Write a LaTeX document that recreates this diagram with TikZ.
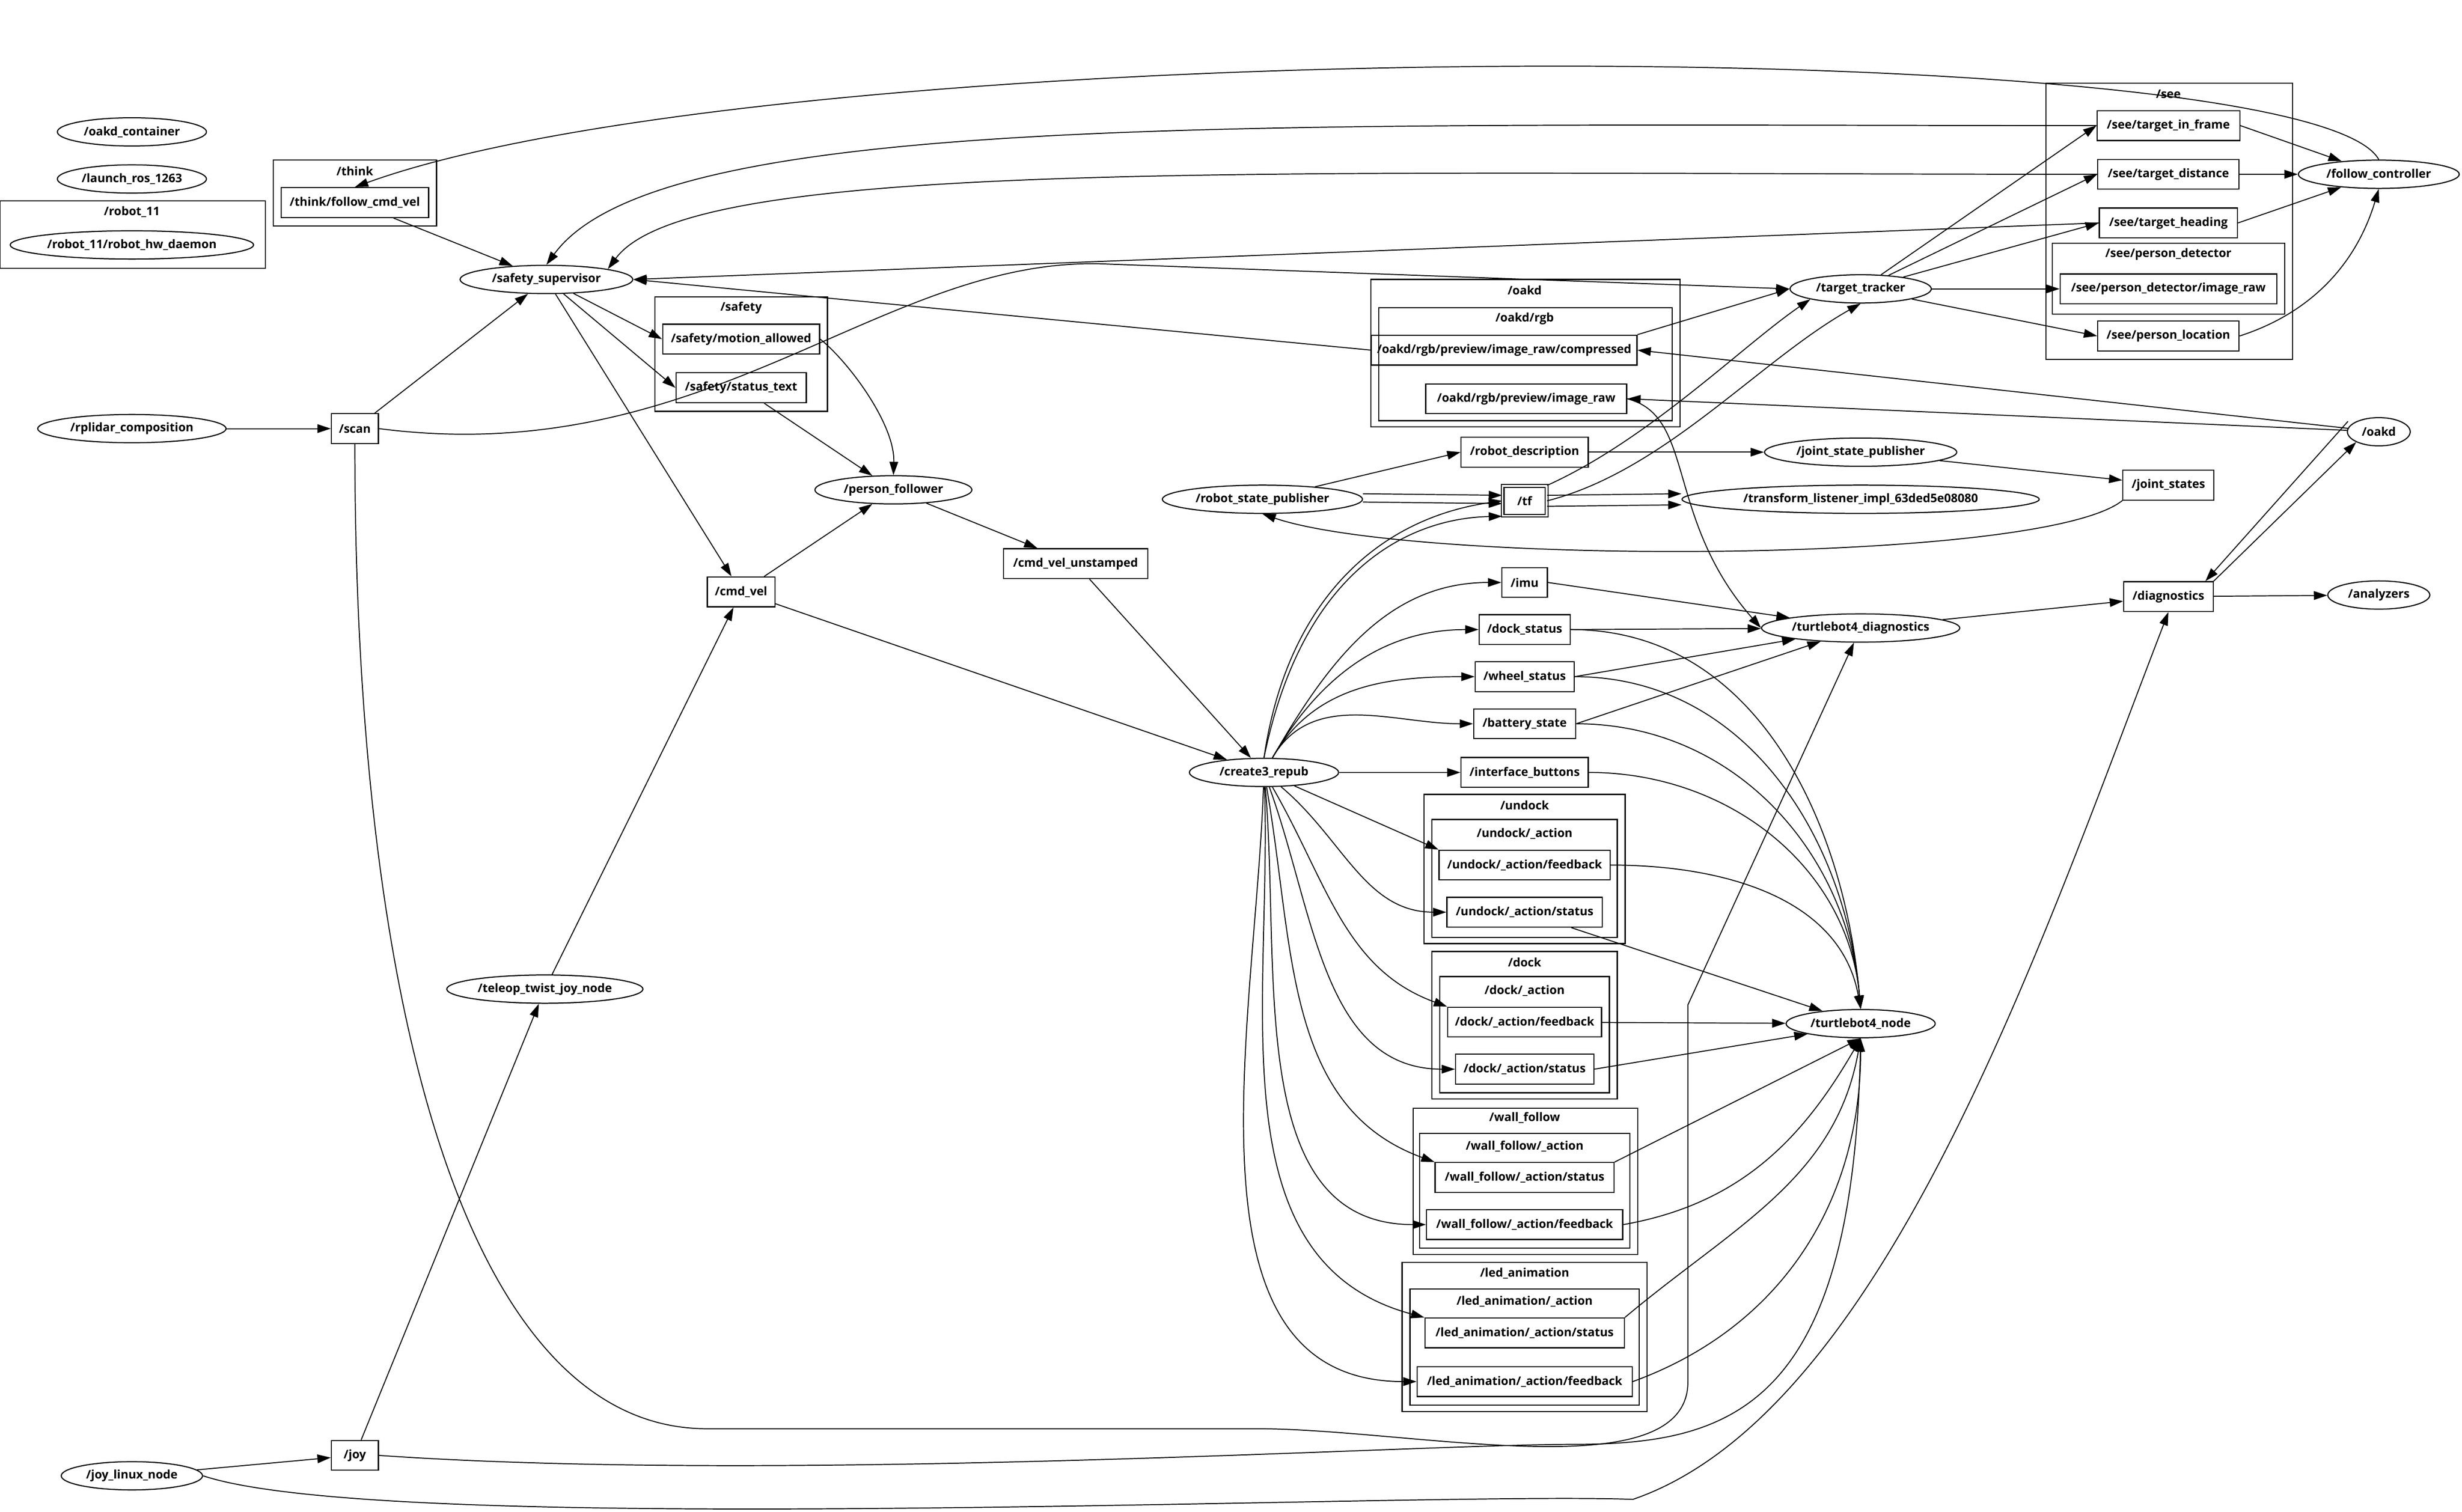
\documentclass[tikz,border=0pt]{standalone}
\usepackage{fontspec}
\setmainfont{Open Sans}
\usetikzlibrary{shapes.geometric, arrows.meta, positioning, fit}

\begin{document}
\begin{tikzpicture}[x=0.02cm, y=-0.02cm,
    rosnode/.style={ellipse, draw, inner sep=0.5pt, minimum height=0.36cm, font=\fontsize{4.3}{5}\selectfont\bfseries},
    topic/.style={rectangle, draw, inner sep=2pt, minimum height=0.38cm, font=\fontsize{4.3}{5}\selectfont\bfseries},
    group/.style={draw},
    grouplabel/.style={font=\fontsize{4.3}{5}\selectfont\bfseries, inner sep=0pt},
    edge/.style={-{Triangle[length=0.17cm, width=0.11cm]}, line width=0.35pt}
]
\useasboundingbox (0,0) rectangle (1568,963);

% groups
\draw[group] (0,128) rectangle (169,171);      \node[grouplabel] at (84,135) {/robot\_11};
\draw[group] (174,102) rectangle (278,144);    \node[grouplabel] at (226,109) {/think};
\draw[group] (417,189) rectangle (527,262);    \node[grouplabel] at (472,196) {/safety};
\draw[group] (873,178) rectangle (1070,272);   \node[grouplabel] at (971,185) {/oakd};
\draw[group] (878,196) rectangle (1065,268);   \node[grouplabel] at (971,203) {/oakd/rgb};
\draw[group] (1303,53) rectangle (1460,229);   \node[grouplabel] at (1381,60) {/see};
\draw[group] (1307,155) rectangle (1455,200);  \node[grouplabel] at (1381,162) {/see/person\_detector};
\draw[group] (907,506) rectangle (1035,601);   \node[grouplabel] at (971,513) {/undock};
\draw[group] (912,522) rectangle (1030,597);   \node[grouplabel] at (971,531) {/undock/\_action};
\draw[group] (912,606) rectangle (1030,700);   \node[grouplabel] at (971,613) {/dock};
\draw[group] (917,622) rectangle (1025,696);   \node[grouplabel] at (971,631) {/dock/\_action};
\draw[group] (900,706) rectangle (1043,799);   \node[grouplabel] at (971,712) {/wall\_follow};
\draw[group] (904,722) rectangle (1038,795);   \node[grouplabel] at (971,730) {/wall\_follow/\_action};
\draw[group] (893,804) rectangle (1049,899);   \node[grouplabel] at (971,811) {/led\_animation};
\draw[group] (898,821) rectangle (1044,895);   \node[grouplabel] at (971,829) {/led\_animation/\_action};

% ros nodes
\node[rosnode, minimum width=1.9cm] (container) at (84,84) {/oakd\_container};
\node[rosnode, minimum width=1.9cm] (launch) at (84,114) {/launch\_ros\_1263};
\node[rosnode, minimum width=3.1cm] (hwdaemon) at (84,156) {/robot\_11/robot\_hw\_daemon};
\node[rosnode, minimum width=2.2cm] (supervisor) at (348,178) {/safety\_supervisor};
\node[rosnode, minimum width=2.4cm] (rplidar) at (84,273) {/rplidar\_composition};
\node[rosnode, minimum width=2cm] (follower) at (569,312) {/person\_follower};
\node[rosnode, minimum width=2.5cm] (teleop) at (347,630) {/teleop\_twist\_joy\_node};
\node[rosnode, minimum width=1.8cm] (joylinux) at (84,940) {/joy\_linux\_node};
\node[rosnode, minimum width=2.55cm] (rsp) at (804,318) {/robot\_state\_publisher};
\node[rosnode, minimum width=1.9cm] (repub) at (805,492) {/create3\_repub};
\node[rosnode, minimum width=1.8cm] (tracker) at (1185,184) {/target\_tracker};
\node[rosnode, minimum width=2.05cm] (followctl) at (1515,111) {/follow\_controller};
\node[rosnode, minimum width=0.8cm] (oakd) at (1515,275) {/oakd};
\node[rosnode, minimum width=2.45cm] (jsp) at (1185,288) {/joint\_state\_publisher};
\node[rosnode, minimum width=4.55cm] (tflistener) at (1185,318) {/transform\_listener\_impl\_63ded5e08080};
\node[rosnode, minimum width=2.5cm] (tbdiag) at (1185,400) {/turtlebot4\_diagnostics};
\node[rosnode, minimum width=1.3cm] (analyzers) at (1515,379) {/analyzers};
\node[rosnode, minimum width=1.9cm] (tbnode) at (1185,652) {/turtlebot4\_node};

% topics
\node[topic, minimum width=1.88cm] (thinkvel) at (226,129) {/think/follow\_cmd\_vel};
\node[topic, minimum width=0.6cm] (scan) at (226,273) {/scan};
\node[topic, minimum width=2cm] (motion) at (472,216) {/safety/motion\_allowed};
\node[topic, minimum width=1.66cm] (status) at (472,247) {/safety/status\_text};
\node[topic, minimum width=0.86cm] (cmdvel) at (472,377) {/cmd\_vel};
\node[topic, minimum width=1.84cm] (unstamped) at (685,359) {/cmd\_vel\_unstamped};
\node[topic, minimum width=0.6cm] (joy) at (226,927) {/joy};
\node[topic, minimum width=3.02cm] (compressed) at (958,223) {/oakd/rgb/preview/image\_raw/compressed};
\node[topic, minimum width=2.56cm] (imageraw) at (972,254) {/oakd/rgb/preview/image\_raw};
\node[topic, minimum width=1.62cm] (robotdesc) at (971,288) {/robot\_description};
\node[topic, double, minimum width=0.56cm] (tf) at (971,319) {/tf};
\node[topic, minimum width=0.58cm] (imu) at (971,371) {/imu};
\node[topic, minimum width=1.16cm] (dockstatus) at (971,401) {/dock\_status};
\node[topic, minimum width=1.26cm] (wheel) at (971,431) {/wheel\_status};
\node[topic, minimum width=1.3cm] (battery) at (971,461) {/battery\_state};
\node[topic, minimum width=1.62cm] (buttons) at (971,492) {/interface\_buttons};
\node[topic, minimum width=2.18cm] (undockfb) at (971,551) {/undock/\_action/feedback};
\node[topic, minimum width=1.98cm] (undockst) at (971,581) {/undock/\_action/status};
\node[topic, minimum width=1.96cm] (dockfb) at (971,651) {/dock/\_action/feedback};
\node[topic, minimum width=1.76cm] (dockst) at (971,681) {/dock/\_action/status};
\node[topic, minimum width=2.28cm] (wallst) at (971,750) {/wall\_follow/\_action/status};
\node[topic, minimum width=2.5cm] (wallfb) at (971,780) {/wall\_follow/\_action/feedback};
\node[topic, minimum width=2.54cm] (ledst) at (971,849) {/led\_animation/\_action/status};
\node[topic, minimum width=2.74cm] (ledfb) at (971,880) {/led\_animation/\_action/feedback};
\node[topic, minimum width=1.82cm] (inframe) at (1381,80) {/see/target\_in\_frame};
\node[topic, minimum width=1.8cm] (distance) at (1381,111) {/see/target\_distance};
\node[topic, minimum width=1.76cm] (heading) at (1381,142) {/see/target\_heading};
\node[topic, minimum width=2.76cm] (detimage) at (1381,184) {/see/person\_detector/image\_raw};
\node[topic, minimum width=1.8cm] (location) at (1381,214) {/see/person\_location};
\node[topic, minimum width=1.16cm] (jointstates) at (1381,309) {/joint\_states};
\node[topic, minimum width=1.14cm] (diagnostics) at (1381,380) {/diagnostics};

% edges
\draw[edge] (followctl.north) .. controls (1470,20) and (500,20) .. (thinkvel.north);
\draw[edge] (thinkvel) -- (supervisor);
\draw[edge] (inframe.west) .. controls (800,80) and (420,70) .. (supervisor.north);
\draw[edge] (distance.west) .. controls (800,111) and (440,100) .. (supervisor.north east);
\draw[edge] (heading.west) -- (supervisor.east);
\draw[edge] (compressed.west) -- (supervisor.east);
\draw[edge] (supervisor) -- (motion.west);
\draw[edge] (supervisor) -- (status.west);
\draw[edge] (supervisor) -- (cmdvel);
\draw[edge] (scan) -- (supervisor);
\draw[edge] (rplidar) -- (scan);
\draw[edge] (scan.east) .. controls (450,300) and (560,165) .. (700,168) -- (tracker.west);
\draw[edge] (scan.south) .. controls (226,650) and (300,910) .. (450,910) -- (800,910) .. controls (900,910) and (1075,950) .. (1075,880) -- (1075,640) -- (tbdiag);
\draw[edge] (motion.east) .. controls (540,230) and (570,270) .. (follower.north);
\draw[edge] (status) -- (follower);
\draw[edge] (cmdvel) -- (follower);
\draw[edge] (follower) -- (unstamped);
\draw[edge] (unstamped) -- (repub);
\draw[edge] (cmdvel) -- (repub);
\draw[edge] (teleop) -- (cmdvel);
\draw[edge] (joylinux) -- (joy);
\draw[edge] (joy) -- (teleop);
\draw[edge] (joy.east) .. controls (500,945) and (900,920) .. (1000,920) .. controls (1100,920) and (1180,900) .. (tbnode.south);
\draw[edge] (joylinux.east) .. controls (250,980) and (900,950) .. (1040,955) .. controls (1200,900) and (1300,600) .. (diagnostics.south);
\draw[edge] (oakd) -- (compressed.east);
\draw[edge] (oakd) -- (imageraw.east);
\draw[edge] ([xshift=-3pt]oakd.north west) -- ([xshift=-3pt]diagnostics.north east);
\draw[edge] (diagnostics.north east) -- (oakd.south west);
\draw[edge] (compressed.north east) -- (tracker.west);
\draw[edge] (imageraw.east) .. controls (1080,265) and (1060,330) .. (tbdiag.west);
\draw[edge] (tracker) -- (inframe.west);
\draw[edge] (tracker) -- (distance.west);
\draw[edge] (tracker) -- (heading.west);
\draw[edge] (tracker) -- (detimage.west);
\draw[edge] (tracker) -- (location.west);
\draw[edge] (inframe.east) -- (followctl);
\draw[edge] (distance.east) -- (followctl);
\draw[edge] (heading.east) -- (followctl);
\draw[edge] (location.east) .. controls (1470,200) and (1500,170) .. (followctl.south);
\draw[edge] (rsp) -- (robotdesc.west);
\draw[edge] ([yshift=2pt]rsp.east) -- ([yshift=2pt]tf.west);
\draw[edge] ([yshift=-1pt]rsp.east) -- ([yshift=-1pt]tf.west);
\draw[edge] (robotdesc) -- (jsp);
\draw[edge] (jsp) -- (jointstates);
\draw[edge] (jointstates.south west) .. controls (1300,360) and (900,360) .. (rsp.south);
\draw[edge] (tf.east) .. controls (1060,300) and (1120,230) .. (tracker.south);
\draw[edge] (tf.north east) .. controls (1050,280) and (1110,220) .. (tracker.south west);
\draw[edge] ([yshift=2pt]tf.east) -- ([yshift=2pt]tflistener.west);
\draw[edge] ([yshift=-2pt]tf.east) -- ([yshift=-2pt]tflistener.west);
\draw[edge] (repub.north) .. controls (830,360) and (900,330) .. (tf.south west);
\draw[edge] (repub.north) .. controls (820,380) and (880,330) .. (tf.west);
\foreach \t in {imu, dockstatus, wheel, battery}
  \draw[edge] (repub) to[out=60, in=180] (\t.west);
\draw[edge] (repub) -- (buttons);
\draw[edge] (repub) -- (undockfb.north west);
\draw[edge] (repub) to[out=-40, in=180] (undockst.west);
\draw[edge] (repub) to[out=-60, in=160] (dockfb.north west);
\draw[edge] (repub) to[out=-70, in=180] (dockst.west);
\draw[edge] (repub) to[out=-80, in=160] (wallst.north west);
\draw[edge] (repub) to[out=-85, in=180] (wallfb.west);
\draw[edge] (repub) to[out=-88, in=165] (ledst.north west);
\draw[edge] (repub) to[out=-92, in=180] (ledfb.west);
\foreach \t in {imu, dockstatus, wheel, battery}
  \draw[edge] (\t.east) -- (tbdiag);
\foreach \t in {dockstatus, wheel, battery, buttons}
  \draw[edge] (\t.east) to[out=0, in=95] (tbnode.north);
\draw[edge] (undockfb.east) to[out=0, in=100] (tbnode.north);
\draw[edge] (undockst) -- (tbnode);
\draw[edge] (dockfb) -- (tbnode);
\draw[edge] (dockst.east) -- (tbnode.south west);
\draw[edge] (wallst.north east) -- (tbnode.south);
\draw[edge] (wallfb.east) to[out=10, in=-120] (tbnode.south);
\draw[edge] (ledst.north east) to[out=40, in=-100] (tbnode.south);
\draw[edge] (ledfb.east) to[out=20, in=-90] (tbnode.south);
\draw[edge] (tbdiag) -- (diagnostics);
\draw[edge] (diagnostics) -- (analyzers);
\end{tikzpicture}
\end{document}
